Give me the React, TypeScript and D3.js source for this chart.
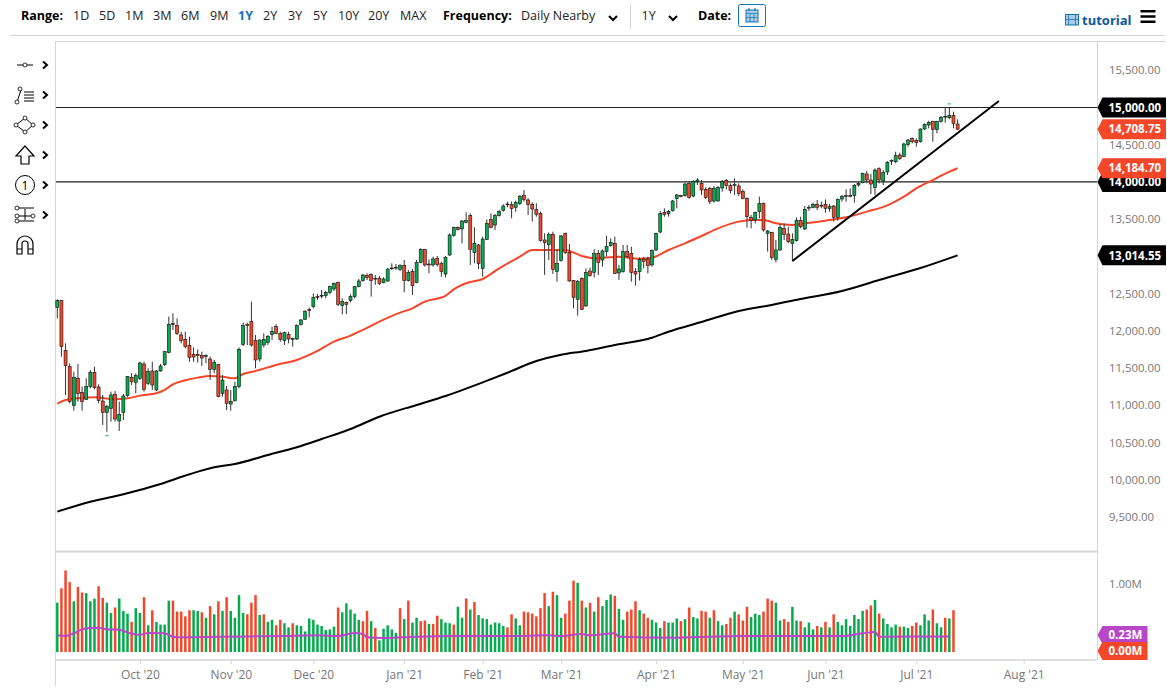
import React, { useEffect, useRef } from "react";
import * as d3 from "d3";

// daily candles (index 0 = first session on the left)
const opens = [
  12316, 12406, 11734, 11519, 10995, 11363, 11175, 11081, 11251, 11443,
  11246, 11058, 10906, 10960, 11148, 10790, 10906, 11130, 11376, 11309,
  11363, 11555, 11295, 11461, 11206, 11461, 11546, 11712, 12097, 12074,
  11945, 11886, 11806, 11685, 11685, 11672, 11658, 11622, 11483, 11546,
  11161, 11206, 11018, 11063, 11251, 11819, 12083, 12124, 11868, 11622,
  11810, 11846, 11949, 12056, 11967, 11868, 11954, 11886, 11891, 12083,
  12155, 12285, 12325, 12460, 12468, 12473, 12518, 12562, 12652, 12339,
  12383, 12406, 12459, 12594, 12674, 12742, 12755, 12706, 12706, 12648,
  12670, 12845, 12845, 12827, 12876, 12675, 12796, 12648, 12921, 13091,
  12898, 12885, 12970, 12903, 12764, 13019, 13284, 13386, 13369, 13458,
  13548, 13051, 13154, 12840, 13230, 13498, 13422, 13548, 13619, 13704,
  13700, 13660, 13709, 13821, 13758, 13700, 13633, 13579, 13221, 13158,
  13297, 12796, 12943, 13310, 13055, 12675, 12424, 12706, 12334, 12804,
  12787, 13042, 12952, 13064, 13145, 13176, 12778, 12796, 13064, 13042,
  12796, 12796, 12965, 12965, 12885, 13086, 13328, 13592, 13574, 13614,
  13776, 13816, 13816, 13977, 13811, 14004, 13981, 13901, 13914, 13744,
  13744, 13919, 14022, 13950, 13964, 13946, 13874, 13780, 13525, 13489,
  13601, 13713, 13310, 13323, 12961, 13086, 13377, 13301, 13176, 13211,
  13484, 13368, 13650, 13659, 13699, 13677, 13699, 13641, 13677, 13525,
  13771, 13807, 13816, 13816, 13959, 13990, 14107, 14026, 13928, 14178,
  14013, 14134, 14281, 14272, 14362, 14340, 14501, 14581, 14559, 14541,
  14711, 14765, 14814, 14707, 14814, 14872, 14863, 14895, 14778,
];
const highs = [
  12424, 12415, 11833, 11564, 11452, 11555, 11251, 11363, 11474, 11519,
  11282, 11139, 11004, 11184, 11192, 11049, 11152, 11394, 11430, 11430,
  11586, 11586, 11497, 11586, 11474, 11555, 11730, 12191, 12236, 12168,
  11989, 11989, 11922, 11779, 11752, 11721, 11685, 11654, 11609, 11555,
  11407, 11260, 11206, 11318, 11779, 12110, 12110, 12392, 11945, 11886,
  11967, 11945, 12056, 12088, 11989, 11989, 11989, 11909, 12088, 12159,
  12280, 12312, 12504, 12495, 12549, 12536, 12607, 12648, 12661, 12437,
  12392, 12491, 12603, 12697, 12759, 12773, 12773, 12751, 12737, 12719,
  12840, 12907, 12898, 12894, 12952, 12818, 12831, 12952, 13109, 13100,
  12961, 12997, 13006, 12930, 13006, 13310, 13400, 13400, 13489, 13592,
  13579, 13391, 13167, 13266, 13498, 13579, 13570, 13624, 13700, 13736,
  13736, 13749, 13825, 13892, 13780, 13727, 13713, 13601, 13310, 13324,
  13333, 13086, 13288, 13319, 13167, 12684, 12684, 12719, 12840, 12849,
  13096, 13087, 13096, 13279, 13243, 13266, 12885, 13154, 13154, 13131,
  12840, 12988, 12996, 12996, 13095, 13319, 13610, 13646, 13623, 13758,
  13838, 13825, 13990, 14013, 14026, 14049, 14026, 13928, 13936, 13946,
  13946, 14026, 14040, 13981, 14049, 13981, 13901, 13793, 13556, 13601,
  13802, 13722, 13355, 13332, 13220, 13435, 13444, 13399, 13310, 13525,
  13534, 13677, 13690, 13722, 13758, 13735, 13766, 13704, 13690, 13780,
  13825, 13901, 13914, 13972, 14004, 14125, 14147, 14107, 14183, 14196,
  14160, 14281, 14304, 14407, 14393, 14528, 14577, 14599, 14586, 14720,
  14787, 14823, 14823, 14823, 14886, 15002, 15002, 14944, 14841,
];
const lows = [
  12168, 11654, 11139, 11027, 10928, 11049, 10928, 11072, 11228, 11215,
  11027, 10736, 10646, 10781, 10781, 10655, 10803, 11116, 11273, 11161,
  11340, 11184, 11273, 11206, 11192, 11452, 11528, 11698, 12012, 11945,
  11833, 11765, 11586, 11586, 11573, 11528, 11564, 11340, 11430, 11107,
  11116, 10937, 10928, 11049, 11228, 11797, 11810, 11788, 11497, 11586,
  11779, 11810, 11877, 11954, 11855, 11810, 11833, 11788, 11877, 12070,
  12146, 12182, 12303, 12415, 12437, 12437, 12491, 12536, 12334, 12222,
  12227, 12383, 12437, 12585, 12661, 12683, 12460, 12617, 12617, 12639,
  12661, 12818, 12818, 12804, 12518, 12661, 12482, 12639, 12907, 12863,
  12773, 12863, 12863, 12728, 12719, 13006, 13266, 13346, 13176, 13445,
  12885, 12907, 12831, 12728, 13221, 13378, 13355, 13534, 13601, 13660,
  13512, 13601, 13691, 13736, 13557, 13467, 13534, 13198, 12751, 12952,
  12764, 12661, 12930, 13033, 12661, 12303, 12205, 12281, 12325, 12728,
  12719, 12751, 12863, 12997, 13131, 12764, 12684, 12782, 12975, 12661,
  12607, 12675, 12840, 12773, 12862, 13073, 13310, 13534, 13534, 13601,
  13646, 13793, 13802, 13775, 13793, 13959, 13825, 13771, 13704, 13722,
  13735, 13869, 13901, 13847, 13825, 13811, 13767, 13386, 13377, 13444,
  13511, 13332, 13064, 12952, 12920, 13077, 13220, 13176, 12934, 13198,
  13377, 13355, 13610, 13646, 13623, 13646, 13587, 13601, 13467, 13480,
  13735, 13735, 13793, 13722, 13937, 13981, 13981, 13838, 13825, 13981,
  13959, 14093, 14228, 14250, 14295, 14331, 14474, 14519, 14474, 14528,
  14698, 14720, 14541, 14653, 14796, 14796, 14841, 14720, 14698,
];
const closes = [
  12406, 11788, 11533, 11049, 11376, 11161, 11049, 11251, 11443, 11237,
  11063, 10906, 10982, 11139, 10816, 10879, 11125, 11385, 11318, 11398,
  11569, 11215, 11457, 11273, 11461, 11528, 11721, 12088, 12088, 11967,
  11868, 11788, 11640, 11649, 11667, 11636, 11667, 11483, 11577, 11116,
  11340, 11027, 11054, 11255, 11752, 12070, 12074, 11810, 11609, 11877,
  11886, 11927, 11994, 11963, 11886, 11976, 11891, 11895, 12070, 12146,
  12258, 12276, 12446, 12451, 12477, 12518, 12594, 12639, 12357, 12392,
  12357, 12459, 12594, 12670, 12751, 12715, 12675, 12697, 12639, 12697,
  12831, 12836, 12854, 12876, 12675, 12787, 12607, 12921, 13095, 12885,
  12885, 12966, 12889, 12796, 12984, 13288, 13391, 13364, 13476, 13480,
  13095, 13176, 12903, 13234, 13445, 13391, 13548, 13601, 13677, 13695,
  13642, 13727, 13803, 13763, 13700, 13637, 13566, 13212, 13185, 13297,
  12827, 12907, 13275, 13051, 12670, 12451, 12661, 12290, 12782, 12742,
  13042, 12921, 13073, 13131, 13189, 12773, 12831, 13064, 12997, 12787,
  12764, 12961, 12934, 12876, 13077, 13310, 13579, 13565, 13601, 13744,
  13825, 13807, 13972, 13793, 14008, 14026, 13892, 13793, 13735, 13914,
  13923, 14008, 13950, 13883, 13955, 13847, 13780, 13534, 13480, 13592,
  13708, 13355, 13341, 12987, 13086, 13386, 13296, 13198, 13225, 13484,
  13399, 13632, 13659, 13699, 13659, 13686, 13646, 13668, 13525, 13766,
  13802, 13816, 13807, 13955, 13981, 14111, 14026, 13972, 14160, 14026,
  14129, 14259, 14290, 14353, 14317, 14510, 14563, 14541, 14528, 14711,
  14774, 14801, 14707, 14810, 14868, 14881, 14895, 14787, 14708.75,
];

// volume in millions, U/D is the bar colour
const volumes = [
  0.72, 0.93, 1.19, 1.02, 0.74, 0.95, 0.87, 0.86, 0.74, 0.78,
  0.96, 0.79, 0.72, 0.57, 0.65, 0.78, 0.6, 0.56, 0.44, 0.64,
  0.57, 0.8, 0.39, 0.61, 0.44, 0.4, 0.4, 0.75, 0.75, 0.59,
  0.59, 0.52, 0.61, 0.61, 0.6, 0.58, 0.5, 0.67, 0.55, 0.74,
  0.6, 0.8, 0.6, 0.5, 0.83, 0.57, 0.55, 0.72, 0.83, 0.54,
  0.55, 0.44, 0.47, 0.39, 0.47, 0.42, 0.36, 0.42, 0.39, 0.38,
  0.3, 0.49, 0.47, 0.4, 0.38, 0.32, 0.33, 0.37, 0.65, 0.58,
  0.71, 0.62, 0.56, 0.47, 0.45, 0.6, 0.45, 0.35, 0.17, 0.34,
  0.39, 0.33, 0.28, 0.64, 0.48, 0.75, 0.43, 0.5, 0.45, 0.46,
  0.41, 0.41, 0.53, 0.48, 0.43, 0.42, 0.4, 0.66, 0.5, 0.78,
  0.62, 0.73, 0.54, 0.49, 0.48, 0.4, 0.43, 0.42, 0.38, 0.36,
  0.55, 0.49, 0.39, 0.59, 0.58, 0.56, 0.52, 0.64, 0.86, 0.67,
  0.88, 0.83, 0.5, 0.56, 0.75, 1.04, 1.01, 0.75, 0.65, 0.72,
  0.59, 0.8, 0.67, 0.76, 0.84, 0.82, 0.63, 0.47, 0.59, 0.62,
  0.74, 0.61, 0.56, 0.5, 0.47, 0.43, 0.35, 0.45, 0.43, 0.43,
  0.49, 0.45, 0.48, 0.65, 0.51, 0.49, 0.6, 0.59, 0.5, 0.61,
  0.45, 0.39, 0.41, 0.5, 0.59, 0.55, 0.46, 0.66, 0.51, 0.56,
  0.54, 0.59, 0.78, 0.75, 0.72, 0.46, 0.48, 0.44, 0.66, 0.46,
  0.45, 0.36, 0.43, 0.33, 0.38, 0.36, 0.44, 0.36, 0.55, 0.44,
  0.39, 0.48, 0.38, 0.54, 0.48, 0.6, 0.62, 0.68, 0.76, 0.56,
  0.49, 0.41, 0.36, 0.4, 0.37, 0.37, 0.35, 0.38, 0.43, 0.39,
  0.55, 0.46, 0.62, 0.42, 0.36, 0.5, 0.49, 0.61,
];
const volumeDirs =
  "URRRURRUUU" + "RRUURUUURU" + "URURUUUURR" + "RRRUURURUR" + "URUUUURRRU" +
  "RUURRUURUU" + "UUUUUUUURU" + "UUUURRURUU" + "UUURURUURR" + "URRUUURUUR" +
  "URUUUUUUUR" + "RUURRRRRRU" + "RUURRRURUR" + "URUUURUURR" + "RURRUUURUU" +
  "URURUURRUR" + "UURRURRRUU" + "URRRUURRUU" + "RUUURURURU" + "UUUUUURRUR" +
  "UUUURUURRU" + "UURUURUR";

// moving averages: vertices
const ma50Idx = [0, 2, 5, 9, 14, 17, 20, 24, 26, 28, 31, 34, 37, 40, 43, 45, 48, 53, 58, 63, 67, 71, 74, 78, 83, 86, 89, 94, 96, 99, 103, 107, 112, 115, 120, 123, 127, 130, 136, 141, 144, 148, 152, 156, 160, 165, 168, 171, 174, 178, 181, 186, 191, 196, 201, 205, 208, 212, 216, 218];
const ma50Val = [11022, 11072, 11094, 11107, 11081, 11094, 11130, 11161, 11206, 11282, 11336, 11372, 11394, 11385, 11363, 11421, 11461, 11542, 11609, 11730, 11855, 11936, 12012, 12124, 12245, 12303, 12393, 12469, 12558, 12639, 12697, 12840, 12997, 13087, 13087, 13087, 13006, 12975, 12997, 12970, 12983, 13086, 13176, 13274, 13377, 13467, 13489, 13489, 13444, 13422, 13444, 13480, 13525, 13601, 13686, 13802, 13914, 14026, 14138, 14184.7];
const ma200Idx = [0, 8, 16, 25, 32, 38, 43, 51, 58, 64, 71, 78, 87, 94, 103, 109, 116, 122, 128, 135, 144, 148, 156, 165, 173, 180, 190, 199, 209, 218];
const ma200Val = [9572, 9706, 9805, 9944, 10074, 10168, 10212, 10333, 10437, 10548, 10682, 10847, 11005, 11125, 11309, 11438, 11595, 11680, 11730, 11810, 11908, 11989, 12119, 12267, 12348, 12428, 12536, 12683, 12844, 13014.55];
const volMaIdx = [0, 2, 4, 6, 8, 10, 12, 15, 17, 20, 22, 26, 28, 30, 39, 47, 55, 63, 68, 72, 74, 75, 79, 87, 95, 110, 119, 122, 127, 129, 135, 136, 150, 166, 190, 195, 198, 199, 216];
const volMaVal = [0.243, 0.233, 0.272, 0.33, 0.35, 0.354, 0.33, 0.325, 0.286, 0.252, 0.277, 0.272, 0.223, 0.214, 0.223, 0.228, 0.233, 0.243, 0.233, 0.277, 0.262, 0.214, 0.204, 0.223, 0.233, 0.233, 0.243, 0.233, 0.262, 0.243, 0.272, 0.223, 0.209, 0.233, 0.233, 0.272, 0.291, 0.223, 0.228];

const priceTicks = [9500, 10000, 10500, 11000, 11500, 12000, 12500, 13000, 13500, 14000, 14500, 15000, 15500];
const monthIdx = [20, 42, 62, 84, 103, 122, 145, 166, 186, 208, 234];
const monthLabels = ["Oct '20", "Nov '20", "Dec '20", "Jan '21", "Feb '21", "Mar '21", "Apr '21", "May '21", "Jun '21", "Jul '21", "Aug '21"];
const levels = [15000, 14000];
const trendIdx = [178, 228];
const trendVal = [12938, 15087];
const priceTags = [
  { value: 15000, color: "#000000" },
  { value: 14708.75, color: "#f4472a" },
  { value: 14000, color: "#000000" },
  { value: 14184.7, color: "#f4472a" },
  { value: 13014.55, color: "#000000" },
];
const rangeItems = [
  { label: "1D", x: 73 }, { label: "5D", x: 99 }, { label: "1M", x: 125 }, { label: "3M", x: 153 },
  { label: "6M", x: 181 }, { label: "9M", x: 210 }, { label: "1Y", x: 238 }, { label: "2Y", x: 263 },
  { label: "3Y", x: 288 }, { label: "5Y", x: 313 }, { label: "10Y", x: 338 }, { label: "20Y", x: 368 },
  { label: "MAX", x: 400 },
];

const FONT = "'Open Sans', sans-serif";
const GREEN = "#05ab4e";
const RED = "#f4472a";
const FRAME = "#d6d6d6";

const Chevron = ({ x, y }: { x: number; y: number }) => (
  <path d={`M${x - 2},${y - 3.5}L${x + 2},${y}L${x - 2},${y + 3.5}`} fill="none" stroke="#000" strokeWidth={2} />
);
const ChevronDown = ({ x, y }: { x: number; y: number }) => (
  <path d={`M${x - 4},${y - 2}L${x},${y + 2}L${x + 4},${y - 2}`} fill="none" stroke="#000" strokeWidth={2} />
);
const Dot = ({ x, y }: { x: number; y: number }) => <circle cx={x} cy={y} r={2} fill="#fff" stroke="#000" strokeWidth={0.8} />;

const Tools = () => (
  <g fill="none" stroke="#000" strokeWidth={1}>
    <path d="M17,65H33" />
    <Dot x={25} y={65} />
    <path d="M17,102L21,90M24,92H34M24,95H34M24,98H34M24,101H34" />
    <Dot x={20} y={89} />
    <Dot x={17} y={102} />
    <path d="M25,118L33,125L25,132L16,125Z" />
    <Dot x={25} y={118} />
    <Dot x={33} y={125} />
    <Dot x={25} y={132} />
    <Dot x={16} y={125} />
    <path d="M25,146L34,156H29V164H21V156H16Z" strokeWidth={1.2} />
    <circle cx={25} cy={185} r={9.5} />
    <text x={25} y={189.5} fontFamily={FONT} fontSize={12} textAnchor="middle" fill="#000" stroke="none">1</text>
    <path d="M17,208H34M17,216H34M17,221H34M25,209V220" />
    <Dot x={17} y={208} />
    <Dot x={17} y={216} />
    <Dot x={33} y={216} />
    <Dot x={17} y={221} />
    <path d="M17,254V244A8,8 0 0 1 33,244V254H28V244A3,3 0 0 0 22,244V254ZM17,249H22M28,249H33" strokeWidth={1.2} />
    {[65, 95, 125, 155, 185, 215].map((y) => <Chevron key={y} x={45} y={y} />)}
  </g>
);

const App = () => {
  const chartRef = useRef<SVGGElement | null>(null);

  useEffect(() => {
    if (!chartRef.current) return;
    const g = d3.select(chartRef.current);
    g.selectAll("*").remove();

    const x = d3.scaleLinear().domain([0, 218]).range([57.3, 957.6]);
    const y = d3.scaleLinear().domain([9500, 15000]).range([517, 107.5]);
    const yVol = d3.scaleLinear().domain([0, 1]).range([652, 583.5]);

    // price axis
    const axisY = g.append("g").attr("transform", "translate(1097.5,0)").call(
      d3.axisRight(y).tickValues(priceTicks).tickSize(0).tickPadding(11.5).tickFormat(d3.format(",.2f") as any)
    );
    axisY.select(".domain").remove();
    axisY.selectAll("text").style("font-family", FONT).style("font-size", "11.4px").style("fill", "#777");

    // volume axis
    const axisV = g.append("g").attr("transform", "translate(1097.5,0)").call(
      d3.axisRight(yVol).tickValues([1]).tickSize(0).tickPadding(11.5).tickFormat((d) => `${d3.format(".2f")(d as number)}M`)
    );
    axisV.select(".domain").remove();
    axisV.selectAll("text").style("font-family", FONT).style("font-size", "11.4px").style("fill", "#777");

    // time axis
    const axisX = g.append("g").attr("transform", "translate(0,660)").call(
      d3.axisBottom(x).tickValues(monthIdx).tickSize(4).tickPadding(6).tickFormat((_, i) => monthLabels[i])
    );
    axisX.select(".domain").remove();
    axisX.selectAll("line").attr("stroke", "#d6d6d6").attr("stroke-width", 1);
    axisX.selectAll("text").style("font-family", FONT).style("font-size", "12px").style("fill", "#777");

    // horizontal levels
    g.selectAll(".level").data(levels).enter().append("line")
      .attr("x1", 56).attr("x2", 1097).attr("y1", (d) => y(d)).attr("y2", (d) => y(d))
      .attr("stroke", "#222").attr("stroke-width", 1.2);

    // moving averages
    const maLine = (idx: number[], vals: number[], scale: d3.ScaleLinear<number, number>) =>
      d3.line<number>().x((d) => x(d)).y((_, i) => scale(vals[i])).curve(d3.curveMonotoneX)(idx) as string;
    g.append("path").attr("d", maLine(ma200Idx, ma200Val, y)).attr("fill", "none").attr("stroke", "#000").attr("stroke-width", 2);
    g.append("path").attr("d", maLine(ma50Idx, ma50Val, y)).attr("fill", "none").attr("stroke", RED).attr("stroke-width", 2);

    // candles
    const candles = g.selectAll(".candle").data(d3.range(opens.length)).enter().append("g");
    candles.append("line")
      .attr("x1", (i) => x(i)).attr("x2", (i) => x(i))
      .attr("y1", (i) => y(highs[i])).attr("y2", (i) => y(lows[i]))
      .attr("stroke", "#333").attr("stroke-width", 1);
    candles.append("rect")
      .attr("x", (i) => x(i) - 1.5).attr("width", 3)
      .attr("y", (i) => y(Math.max(opens[i], closes[i])))
      .attr("height", (i) => Math.max(0.8, Math.abs(y(opens[i]) - y(closes[i]))))
      .attr("fill", (i) => (closes[i] >= opens[i] ? GREEN : RED))
      .attr("stroke", "#111").attr("stroke-width", 0.6);

    // trendline drawn over the candles
    g.append("line")
      .attr("x1", x(trendIdx[0])).attr("y1", y(trendVal[0]))
      .attr("x2", x(trendIdx[1])).attr("y2", y(trendVal[1]))
      .attr("stroke", "#000").attr("stroke-width", 2);

    // little high/low markers
    const marks = [{ i: 12, v: lows[12], off: 4 }, { i: 216, v: highs[216], off: -3.5 }];
    g.selectAll(".mark").data(marks).enter().append("path")
      .attr("d", (d) => `M${x(d.i) - 1.5},${y(d.v) + d.off}h3`)
      .attr("stroke", "#2ecc71").attr("stroke-width", 1.3);

    // volume bars
    g.selectAll(".vol").data(volumes).enter().append("rect")
      .attr("x", (_, i) => x(i) - 1.25).attr("width", 2.5)
      .attr("y", (d) => yVol(d)).attr("height", (d) => yVol(0) - yVol(d))
      .attr("fill", (_, i) => (volumeDirs[i] === "U" ? GREEN : RED));
    g.append("path").attr("d", maLine(volMaIdx, volMaVal, yVol)).attr("fill", "none").attr("stroke", "#b847c8").attr("stroke-width", 2);

    // value tags on the right
    const tag = (cy: number, x2: number, color: string, label: string, h = 20) => {
      const s = g.append("g");
      s.append("path")
        .attr("d", `M1097.5,${cy}L1102.5,${cy - h / 2}H${x2}V${cy + h / 2}H1102.5Z`)
        .attr("fill", color);
      s.append("text").attr("x", 1108.5).attr("y", cy + 4.2)
        .attr("fill", "#fff").attr("font-family", FONT).attr("font-size", 11.5).attr("font-weight", 700)
        .text(label);
    };
    priceTags.forEach((t) => tag(y(t.value), 1166, t.color, d3.format(",.2f")(t.value)));
    tag(635, 1147.5, "#b847c8", "0.23M", 18);
    tag(651, 1147.5, RED, "0.00M", 18);
  }, []);

  return (
    <svg width={1167} height={695} style={{ position: "absolute", left: 0, top: 0, background: "#fff" }}>
      {/* toolbar */}
      <g fontFamily={FONT} fontSize={12.5} fill="#222">
        <text x={21} y={20} fontWeight={700} fill="#000">Range:</text>
        {rangeItems.map((d) => (
          <text key={d.label} x={d.x} y={20} fontWeight={d.label === "1Y" ? 700 : 400} fill={d.label === "1Y" ? "#1573b7" : "#222"}>{d.label}</text>
        ))}
        <text x={443} y={20} fontWeight={700} fill="#000">Frequency:</text>
        <text x={521} y={20}>Daily Nearby</text>
        <ChevronDown x={613} y={18} />
        <line x1={630.5} x2={630.5} y1={4} y2={29} stroke="#d6d6d6" />
        <text x={641.5} y={20}>1Y</text>
        <ChevronDown x={673} y={18} />
        <text x={698} y={20} fontWeight={700} fill="#000">Date:</text>
        <rect x={738.5} y={4.5} width={27} height={22} rx={2} fill="#fff" stroke="#1573b7" />
        <rect x={746} y={10} width={12} height={12} fill="#a9cbe6" stroke="#1573b7" />
        <path d="M746,13.5H758M750,13.5V22M754,13.5V22M746,17.5H758" stroke="#1573b7" strokeWidth={0.7} />
        <path d="M749,8V11M755,8V11" stroke="#1573b7" strokeWidth={1.2} />
        <rect x={1065.5} y={14.5} width={13} height={10.5} fill="#a9cbe6" stroke="#1573b7" />
        <path d="M1068.5,14.5V25M1075.5,14.5V25M1065.5,19.5H1078.5" stroke="#1573b7" strokeWidth={0.8} />
        <text x={1082} y={25} fontWeight={700} fontSize={13} fill="#0a5a9c">tutorial</text>
        <path d="M1140.5,11.2H1155.5M1140.5,16.5H1155.5M1140.5,21.8H1155.5" stroke="#000" strokeWidth={2.5} />
      </g>

      {/* frames */}
      <g stroke={FRAME} fill="none">
        <line x1={10} x2={1165} y1={35.5} y2={35.5} />
        <line x1={55.5} x2={1165} y1={41.5} y2={41.5} />
        <line x1={55.5} x2={55.5} y1={41} y2={686} />
        <line x1={1097.5} x2={1097.5} y1={41} y2={660} />
        <line x1={56} x2={1097} y1={551.5} y2={551.5} strokeWidth={2} />
        <line x1={56} x2={1097} y1={660} y2={660} strokeWidth={2} stroke="#e0e0e0" />
      </g>

      <Tools />
      <g ref={chartRef} />
    </svg>
  );
};

export default App;
